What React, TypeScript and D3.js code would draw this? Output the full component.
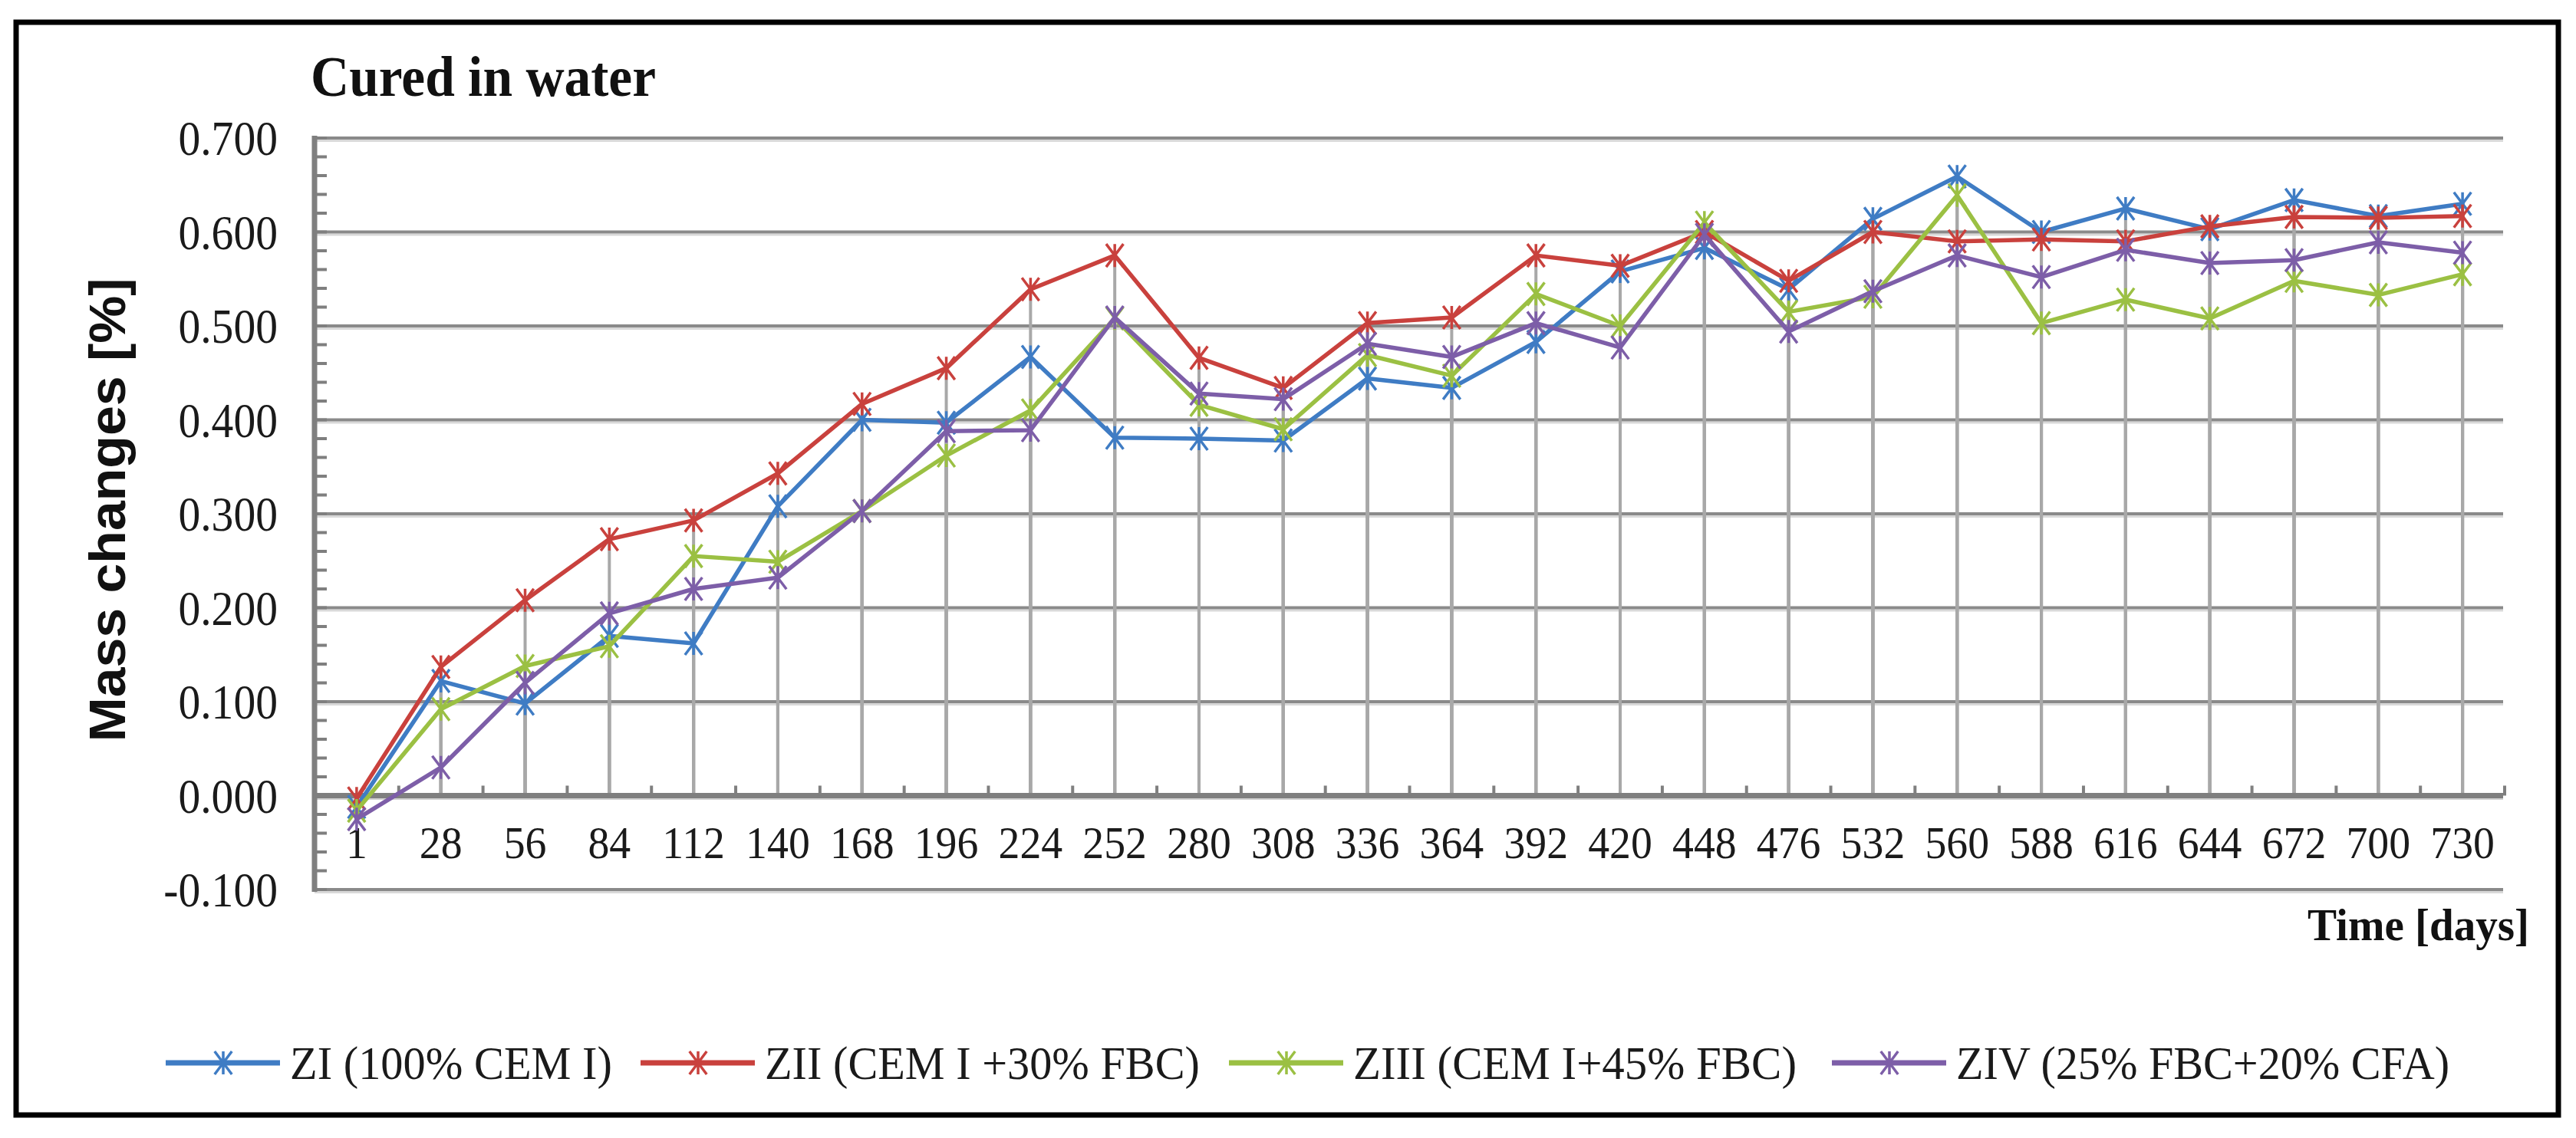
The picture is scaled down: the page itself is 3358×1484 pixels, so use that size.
import React from "react";
import * as d3 from "d3";

const categories = ["1", "28", "56", "84", "112", "140", "168", "196", "224", "252", "280", "308", "336", "364", "392", "420", "448", "476", "532", "560", "588", "616", "644", "672", "700", "730"];

const ziValues = [-0.012, 0.122, 0.098, 0.170, 0.162, 0.308, 0.400, 0.397, 0.467, 0.381, 0.380, 0.378, 0.444, 0.434, 0.483, 0.558, 0.583, 0.539, 0.614, 0.659, 0.600, 0.625, 0.603, 0.634, 0.617, 0.630];
const ziiValues = [-0.003, 0.137, 0.208, 0.273, 0.293, 0.343, 0.417, 0.455, 0.539, 0.575, 0.466, 0.434, 0.503, 0.509, 0.575, 0.564, 0.600, 0.548, 0.600, 0.590, 0.592, 0.590, 0.606, 0.616, 0.615, 0.617];
const ziiiValues = [-0.016, 0.092, 0.138, 0.159, 0.255, 0.249, 0.303, 0.362, 0.410, 0.508, 0.416, 0.390, 0.469, 0.447, 0.534, 0.500, 0.610, 0.515, 0.531, 0.639, 0.503, 0.528, 0.508, 0.548, 0.533, 0.555];
const zivValues = [-0.025, 0.030, 0.120, 0.194, 0.220, 0.232, 0.303, 0.388, 0.389, 0.509, 0.428, 0.422, 0.481, 0.467, 0.503, 0.477, 0.597, 0.494, 0.537, 0.575, 0.552, 0.581, 0.567, 0.570, 0.589, 0.578];

const seriesNames = ["ZI (100% CEM I)", "ZII (CEM I +30% FBC)", "ZIII (CEM I+45% FBC)", "ZIV (25% FBC+20% CFA)"];
const seriesColors = ["#3f7cc4", "#c9413d", "#9bc043", "#7d5ea8"];
const yTicks = [-0.1, 0, 0.1, 0.2, 0.3, 0.4, 0.5, 0.6, 0.7];

const titleText = "Cured in water";
const yTitle = "Mass changes [%]";
const xTitle = "Time [days]";

function starPath(cx: number, cy: number, r: number) {
  const a = r * 0.75;
  return `M${cx - a},${cy - r}L${cx + a},${cy + r}M${cx - a},${cy + r}L${cx + a},${cy - r}M${cx},${cy - r}L${cx},${cy + r}`;
}

export default function App() {
  const W = 3358;
  const H = 1484;
  const left = 410;
  const right = 3265;
  const top = 180;
  const bottom = 1160;

  const x = d3.scaleBand<string>().domain(categories).range([left, right]).padding(0);
  const y = d3.scaleLinear().domain([-0.1, 0.7]).range([bottom, top]);
  const cx = (c: string) => (x(c) as number) + x.bandwidth() / 2;
  const fmt = (v: number) => d3.format(".3f")(v).replace("\u2212", "-");

  const allSeries = [ziValues, ziiValues, ziiiValues, zivValues];
  const lineGen = d3
    .line<number>()
    .x((_, i) => cx(categories[i]))
    .y((d) => y(d));

  const minorTicks = d3.range(-0.1, 0.7001, 0.02);
  const boundaries = d3.range(categories.length + 1).map((i) => left + i * x.step());

  const legendX = [216, 835, 1602, 2388];
  const legendTextW = [420, 567, 578, 643];
  const legendY = 1386;
  const serif = "'Liberation Serif', 'Times New Roman', serif";
  const sans = "'Liberation Sans', Arial, sans-serif";

  return (
    <svg
      width={W}
      height={H}
      style={{ position: "absolute", left: 0, top: 0, background: "#fff" }}
      xmlns="http://www.w3.org/2000/svg"
    >
      <rect x={0} y={0} width={W} height={H} fill="#fff" />
      <rect x={21} y={29} width={3314} height={1425} fill="none" stroke="#000" strokeWidth={7} />

      {/* title */}
      <text x={405} y={125} fontFamily={serif} fontWeight="bold" fontSize={74} textLength={450} lengthAdjust="spacingAndGlyphs" fill="#111">
        {titleText}
      </text>

      {/* horizontal gridlines */}
      {yTicks
        .filter((t) => t !== 0)
        .map((t) => (
          <g key={"g" + t}>
            <line x1={left} x2={right - 2} y1={y(t) + 3.5} y2={y(t) + 3.5} stroke="#d9d9d9" strokeWidth={3} />
            <line x1={left} x2={right - 2} y1={y(t)} y2={y(t)} stroke="#8a8a8a" strokeWidth={4} />
          </g>
        ))}

      {/* drop lines */}
      {allSeries.map((vals, si) =>
        vals.map((v, i) => (
          <line
            key={"d" + si + "-" + i}
            x1={cx(categories[i])}
            x2={cx(categories[i])}
            y1={y(v)}
            y2={y(0)}
            stroke="#a8a8a8"
            strokeWidth={4}
          />
        ))
      )}

      {/* x axis at zero */}
      <line x1={left} x2={right - 2} y1={y(0) + 4} y2={y(0) + 4} stroke="#d0d0d0" strokeWidth={3} />
      <line x1={left} x2={right - 2} y1={y(0)} y2={y(0)} stroke="#7f7f7f" strokeWidth={7} />
      {boundaries.map((bx, i) => (
        <line key={"xt" + i} x1={bx} x2={bx} y1={y(0)} y2={y(0) - 13} stroke="#7f7f7f" strokeWidth={4} />
      ))}

      {/* y axis */}
      <line x1={left} x2={left} y1={top - 3} y2={bottom + 3} stroke="#7f7f7f" strokeWidth={7} />
      {minorTicks.map((t, i) => (
        <line key={"yt" + i} x1={left} x2={left + 16} y1={y(t)} y2={y(t)} stroke="#7f7f7f" strokeWidth={4} />
      ))}

      {/* y tick labels */}
      {yTicks.map((t) => (
        <text
          key={"yl" + t}
          transform={`translate(362, ${y(t) + 22}) scale(0.9, 1)`}
          textAnchor="end"
          fontFamily={serif}
          fontSize={64}
          fill="#1a1a1a"
        >
          {fmt(t)}
        </text>
      ))}

      {/* x tick labels */}
      {categories.map((c) => (
        <text
          key={"xl" + c}
          transform={`translate(${cx(c)}, 1119) scale(0.93, 1)`}
          textAnchor="middle"
          fontFamily={serif}
          fontSize={60}
          fill="#1a1a1a"
        >
          {c}
        </text>
      ))}

      {/* axis titles */}
      <text
        transform={`translate(163, 665) rotate(-90)`}
        textAnchor="middle"
        fontFamily={sans}
        fontWeight="bold"
        fontSize={66}
        textLength={605}
        lengthAdjust="spacingAndGlyphs"
        fill="#111"
      >
        {yTitle}
      </text>
      <text x={3297} y={1226} textAnchor="end" fontFamily={serif} fontWeight="bold" fontSize={60} textLength={289} lengthAdjust="spacingAndGlyphs" fill="#111">
        {xTitle}
      </text>

      {/* series */}
      {allSeries.map((vals, si) => (
        <g key={"s" + si}>
          <path d={lineGen(vals) as string} fill="none" stroke={seriesColors[si]} strokeWidth={5.5} strokeLinejoin="round" strokeLinecap="round" />
          {vals.map((v, i) => (
            <path key={"m" + i} d={starPath(cx(categories[i]), y(v), 15)} stroke={seriesColors[si]} strokeWidth={3.5} fill="none" />
          ))}
        </g>
      ))}

      {/* legend */}
      {seriesNames.map((name, i) => (
        <g key={"lg" + i}>
          <line x1={legendX[i]} x2={legendX[i] + 149} y1={legendY} y2={legendY} stroke={seriesColors[i]} strokeWidth={7} />
          <path d={starPath(legendX[i] + 75, legendY, 15)} stroke={seriesColors[i]} strokeWidth={3.5} fill="none" />
          <text
            x={legendX[i] + 162}
            y={legendY + 21}
            fontFamily={serif}
            fontSize={62}
            textLength={legendTextW[i]}
            lengthAdjust="spacingAndGlyphs"
            fill="#1a1a1a"
          >
            {name}
          </text>
        </g>
      ))}
    </svg>
  );
}
